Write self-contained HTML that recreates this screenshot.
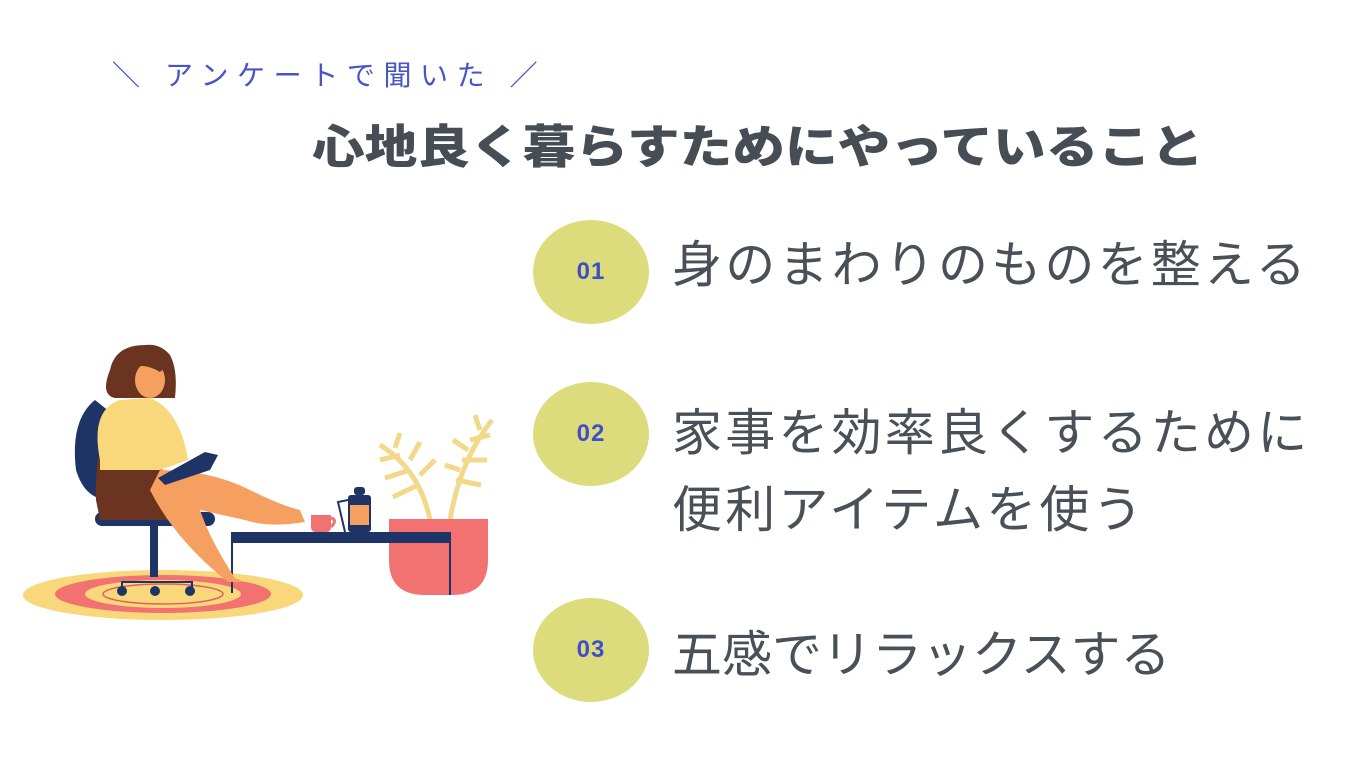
<!DOCTYPE html>
<html><head><meta charset="utf-8"><style>
body{margin:0;width:1366px;height:768px;background:#fff;position:relative;overflow:hidden;font-family:"Liberation Sans","Noto Sans CJK JP",sans-serif;}
.t{position:absolute;white-space:nowrap;line-height:1;}
.sub{left:112px;top:62px;font-size:28px;color:#4656c8;letter-spacing:8.6px;}
.title{left:312px;top:124px;font-size:46px;font-weight:900;color:#474d55;letter-spacing:0px;transform-origin:0 0;transform:scaleX(1.145);}
.c{position:absolute;width:116px;height:104px;border-radius:50%;background:#dcdc7c;color:#3f4fc8;font-weight:900;font-size:24px;display:flex;align-items:center;justify-content:center;font-family:"Liberation Sans",sans-serif;letter-spacing:1px;}
.it{font-size:50px;color:#4a5058;letter-spacing:3.2px;left:672px;}
</style></head><body>
<div class="t sub">＼ アンケートで聞いた ／</div>
<div class="t title">心地良く暮らすためにやっていること</div>
<div class="c" style="left:533px;top:220px">01</div>
<div class="c" style="left:533px;top:382px">02</div>
<div class="c" style="left:533px;top:598px">03</div>
<div class="t it" style="top:240px">身のまわりのものを整える</div>
<div class="t it" style="top:408px">家事を効率良くするために</div>
<div class="t it" style="top:485px">便利アイテムを使う</div>
<div class="t it" style="top:630px;letter-spacing:0px">五感でリラックスする</div>
<svg style="position:absolute;left:0;top:0" width="520" height="640" viewBox="0 0 520 640">
<ellipse cx="163" cy="595" rx="140" ry="25" fill="#f8d87a"/>
<ellipse cx="163" cy="594" rx="108" ry="19" fill="#f27272"/>
<ellipse cx="163" cy="594" rx="78" ry="14" fill="#f8d87a"/>
<ellipse cx="163" cy="594" rx="60" ry="10" fill="none" stroke="#e06060" stroke-width="1.5"/>
<g stroke="#f2d98a" stroke-width="5" fill="none">
<path d="M430 520 Q420 470 380 445"/><path d="M450 520 Q460 460 492 420"/>
<path d="M400 455 l-20 5 M410 470 l-25 8 M418 485 l-25 12 M395 448 l5 -15 M410 460 l10 -18 M420 475 l15 -15"/>
<path d="M470 440 l20 -5 M462 460 l25 0 M456 480 l25 5 M480 430 l-5 -15 M468 450 l-15 -10 M460 470 l-15 -5"/>
</g>
<path d="M389 519 L488 519 L488 560 Q488 595 452 595 L425 595 Q389 595 389 560Z" fill="#f27272"/>
<line x1="450" y1="540" x2="450" y2="595" stroke="#1f3466" stroke-width="2"/>
<rect x="231" y="532" width="220" height="11" fill="#1f3466"/>
<line x1="232" y1="543" x2="232" y2="593" stroke="#1f3466" stroke-width="2"/>
<rect x="348" y="495" width="23" height="37" rx="3" fill="#1f3466"/>
<rect x="350" y="505" width="19" height="20" fill="#f5a060"/>
<rect x="354" y="487" width="11" height="8" rx="3" fill="#1f3466"/>
<path d="M348 500 L338 502 L345 532" stroke="#1f3466" stroke-width="2" fill="none"/>
<path d="M311 515 h20 v12 q0 5 -5 5 h-10 q-5 0 -5 -5z" fill="#f27272"/>
<path d="M331 518 q7 2 0 9" stroke="#f27272" stroke-width="3" fill="none"/>
<path d="M95 400 Q70 420 76 470 Q85 500 110 500 L120 420Z" fill="#1f3466"/>
<rect x="95" y="512" width="120" height="14" rx="7" fill="#1f3466"/>
<rect x="150" y="525" width="8" height="52" fill="#1f3466"/>
<path d="M122 590 v-8 h70 v8" stroke="#1f3466" stroke-width="2" fill="none"/>
<circle cx="122" cy="591" r="5" fill="#1f3466"/><circle cx="155" cy="591" r="5" fill="#1f3466"/><circle cx="190" cy="591" r="5" fill="#1f3466"/>
<path d="M96 500 Q95 470 100 450 L160 455 L170 520 L100 520Z" fill="#6b3420"/>
<path d="M100 460 Q90 410 120 400 L150 398 Q180 410 188 460 L160 470 L100 470Z" fill="#f8d87a"/>
<path d="M160 470 Q210 470 250 490 Q280 505 300 510 L305 522 Q270 528 245 520 L200 510 Q210 540 235 578 L245 582 L228 582 Q175 540 150 490Z" fill="#f5a060"/>
<path d="M158 478 L205 452 L218 455 L210 470 L165 485Z" fill="#1f3466"/>
<path d="M145 345 Q115 345 110 370 Q100 395 115 398 L175 398 Q178 370 170 355 Q160 343 145 345Z" fill="#6b3420"/>
<ellipse cx="150" cy="380" rx="15" ry="18" fill="#f5a060"/>
<path d="M128 360 Q150 345 168 365 L160 372 Q140 360 128 372Z" fill="#6b3420"/>
</svg>
</body></html>
